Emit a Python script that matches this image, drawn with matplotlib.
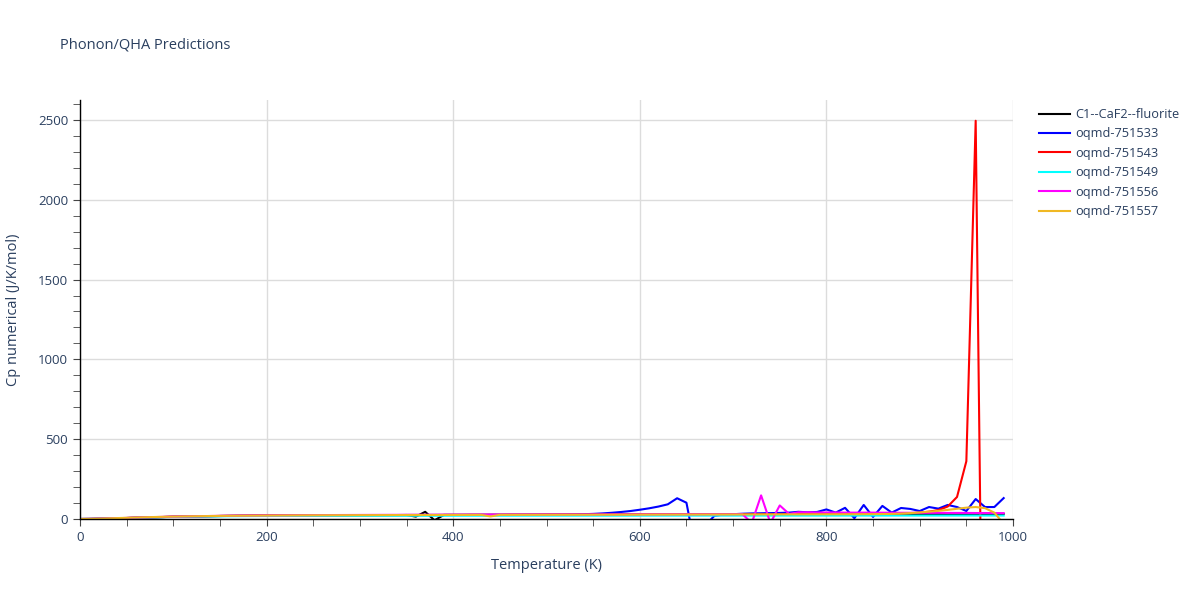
import matplotlib
matplotlib.use("Agg")
import matplotlib.pyplot as plt
from matplotlib.ticker import MultipleLocator

# temperature grid (K)
temperature = list(range(0, 1000, 10))

# Cp numerical (J/K/mol) per structure
cp_fluorite = [
    0, 0.4, 1.4, 2.9, 4.4, 6, 7.8, 9.4, 10.9, 12.3,
    13.8, 14.9, 15.9, 16.9, 17.8, 18.6, 19.3, 19.9, 20.4, 20.9,
    21.3, 21.7, 22.1, 22.4, 22.7, 23, 23.2, 23.5, 23.7, 23.9,
    24.1, 24.3, 24.4, 24.6, 24.7, 24.9, 15, 45, -8, 25.5,
    25.6, 25.7, 25.8, 25.9, 26, 26.1, 26.2, 26.3, 26.4, 26.5,
    26.6, 26.7, 26.8, 26.9, 27, 27.1, 27.2, 27.3, 27.4, 27.5,
    27.6, 27.7, 27.8, 27.9, 28, 28.1, 28.2, 28.3, 28.4, 28.5,
    28.6, 28.7, 28.8, 28.9, 29, 29.1, 29.2, 29.3, 29.4, 29.5,
    29.6, 29.7, 29.8, 29.9, 30, 30.1, 30.2, 30.3, 30.4, 30.5,
    30.6, 30.7, 30.8, 30.9, 31, 31.1, 31.2, 31.3, 31.4, 31.5,
]
cp_751533 = [
    0, 0.5, 1.6, 3.1, 4.6, 6.1, 7.9, 9.5, 11, 12.5,
    14, 15, 16, 17, 18, 18.8, 19.5, 20.1, 20.6, 21,
    21.4, 21.8, 22.2, 22.5, 22.8, 23.1, 23.3, 23.6, 23.8, 24,
    24.2, 24.4, 24.5, 24.7, 24.8, 25, 25.1, 25.2, 25.3, 25.4,
    25.5, 25.6, 25.7, 25.8, 25.9, 26, 26.1, 26.2, 26.3, 26.4,
    26.5, 26.7, 27, 28, 30, 32, 35, 39, 44, 50,
    58, 67, 78, 92, 130, 102, -200, -40, 20, 28,
    30, 33, 35, 36, 37, 38, 40, 45, 42, 44,
    60, 40, 70, 5, 88, 13, 82, 40, 69, 63,
    50, 75, 65, 88, 75, 50, 125, 75, 75, 131,
]
cp_751543 = [
    0, 0.5, 1.5, 3, 4.5, 6, 8, 9.5, 11, 12.5,
    14, 15, 16, 17, 18, 19, 19.5, 20, 20.5, 21,
    21.5, 22, 22, 22.5, 22.5, 23, 23, 23.5, 23.5, 24,
    24, 24, 24.5, 24.5, 24.5, 25, 25, 25, 25, 25.5,
    25.5, 25.5, 26, 26, 26, 26, 26.5, 26.5, 26.5, 26.5,
    27, 27, 27, 27, 27, 27.5, 27.5, 27.5, 27.5, 28,
    28, 28, 28, 28.5, 28.5, 28.5, 28.5, 29, 29, 29,
    29, 29, 29.5, 29.5, 29.5, 29.5, 30, 30, 30, 30,
    30, 30, 30.5, 30.5, 31, 31.5, 32, 32.5, 33, 36,
    40, 46, 56, 78, 138, 362, 2495, -2500, -2500, -2500,
]
cp_751549 = [
    0, 0.4, 1.3, 2.7, 4.1, 5.6, 7.2, 8.7, 10.1, 11.5,
    12.7, 13.8, 14.7, 15.5, 16.2, 16.8, 17.3, 17.7, 18.1, 18.4,
    18.7, 18.9, 19.1, 19.3, 19.4, 19.6, 19.7, 19.8, 19.9, 20,
    20, 20.1, 20.1, 20.2, 20.2, 20.3, 20.3, 20.3, 20.4, 20.4,
    20.4, 20.5, 20.5, 20.5, 20.6, 20.6, 20.6, 20.7, 20.7, 20.7,
    20.8, 20.8, 20.8, 20.8, 20.9, 20.9, 20.9, 20.9, 21, 21,
    21, 21, 21.1, 21.1, 21.1, 21.1, 21.2, 21.2, 21.2, 21.2,
    21.2, 21.3, 21.3, 21.3, 21.3, 21.3, 21.4, 21.4, 21.4, 21.4,
    21.4, 21.4, 21.5, 21.5, 21.5, 21.5, 21.5, 21.5, 21.6, 21.6,
    21.6, 21.6, 21.6, 21.6, 21.7, 21.7, 21.7, 21.7, 21.7, 21.7,
]
cp_751556 = [
    0, 0.5, 1.7, 3.3, 5, 6.8, 8.7, 10.4, 12, 13.5,
    15, 16.1, 17.1, 18, 18.9, 19.7, 20.4, 21, 21.6, 22.1,
    22.6, 23, 23.4, 23.7, 24, 24.3, 24.6, 24.8, 25, 25.2,
    25.4, 25.6, 25.8, 26, 26.1, 26.3, 26.4, 26.6, 26.7, 26.9,
    27, 27.1, 27.3, 27.4, 27.5, 27.6, 27.8, 27.9, 28, 28.1,
    28.2, 28.3, 28.4, 28.5, 28.6, 28.7, 28.8, 28.9, 29, 29.1,
    29.2, 29.3, 29.4, 29.5, 29.6, 29.7, 29.8, 29.9, 30, 30.1,
    30.2, 30.3, -25, 148, -25, 85, 32, 42, 42, 41,
    41, 41, 40, 40, 40, 40, 39.5, 39.5, 39, 39,
    39, 38.5, 38.5, 38, 38, 38, 37.5, 37.5, 37, 37,
]
cp_751557 = [
    0, 0.6, 2, 3.8, 5.7, 7.6, 9.4, 11, 12.5, 13.9,
    15.1, 16.2, 17.1, 17.9, 18.7, 19.4, 20, 20.5, 21, 21.4,
    21.8, 22.1, 22.4, 22.7, 23, 23.2, 23.4, 23.6, 23.8, 24,
    24.2, 24.3, 24.5, 24.6, 24.8, 24.9, 25, 25.1, 25.2, 25.3,
    25.4, 25.5, 25.6, 25.7, 16, 25.9, 26, 26.1, 26.2, 26.3,
    26.4, 26.5, 26.6, 26.7, 26.8, 26.9, 27, 27.1, 27.2, 27.3,
    27.4, 27.5, 27.6, 27.7, 27.8, 27.9, 28, 28.1, 28.2, 28.3,
    28.4, 28.5, 28.6, 28.7, 28.8, 28.9, 29, 29.1, 29.2, 29.3,
    29.4, 29.5, 29.7, 29.9, 30.2, 30.6, 31.2, 32, 34, 37,
    41, 46, 51, 57, 64, 71, 75, 68, 40, -30,
]

names = ["C1--CaF2--fluorite", "oqmd-751533", "oqmd-751543",
         "oqmd-751549", "oqmd-751556", "oqmd-751557"]
series = [cp_fluorite, cp_751533, cp_751543, cp_751549, cp_751556, cp_751557]
colors = ["#000000", "#0000ff", "#ff0000", "#00ffff", "#ff00ff", "#f0b823"]

text_color = "#2a3f5f"
plt.rcParams["font.family"] = ["Open Sans", "DejaVu Sans"]

fig = plt.figure(figsize=(12, 6), dpi=100)
ax = fig.add_axes([80 / 1200, 1 - 519 / 600, 933 / 1200, 419 / 600])

for name, vals, c in zip(names, series, colors):
    ax.plot(temperature, vals, color=c, lw=1.5, label=name)

ax.set_xlim(0, 1000)
ax.set_ylim(0, 2625)

ax.xaxis.set_major_locator(MultipleLocator(200))
ax.xaxis.set_minor_locator(MultipleLocator(50))
ax.yaxis.set_major_locator(MultipleLocator(500))
ax.yaxis.set_minor_locator(MultipleLocator(100))
ax.grid(True, which="major", color="#dcdcdc", lw=1)
ax.set_axisbelow(True)

for s in ["top", "right"]:
    ax.spines[s].set_visible(False)
for s in ["left", "bottom"]:
    ax.spines[s].set_color("black")
    ax.spines[s].set_linewidth(1)

ax.tick_params(which="both", direction="out", color="#444444", labelcolor=text_color,
               labelsize=9.5)
ax.tick_params(which="major", length=5)
ax.tick_params(which="minor", length=5)

ax.set_xlabel("Temperature (K)", color=text_color, fontsize=10.5, labelpad=10)
ax.set_ylabel("Cp numerical (J/K/mol)", color=text_color, fontsize=10.5, labelpad=12)

fig.text(60 / 1200, 1 - 45 / 600, "Phonon/QHA Predictions", color=text_color,
         fontsize=10.5, va="center", ha="left")

fig.legend(loc="upper left", bbox_to_anchor=(1034 / 1200, 1 - 103 / 600),
           frameon=False, fontsize=9.2, labelcolor=text_color, handlelength=2.4,
           handletextpad=0.45, labelspacing=0.5, borderaxespad=0)

fig.savefig("out.png", dpi=100)
